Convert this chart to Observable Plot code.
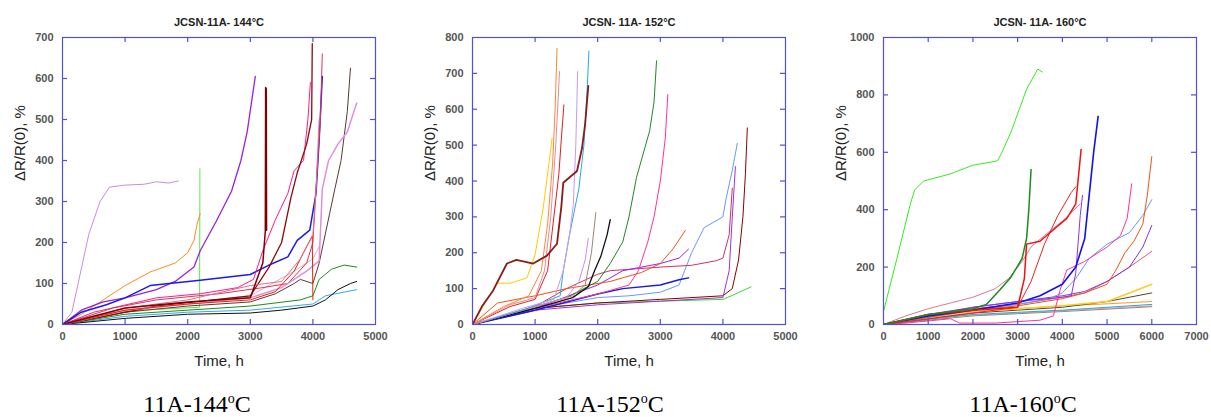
<!DOCTYPE html>
<html><head><meta charset="utf-8">
<script src="https://cdn.jsdelivr.net/npm/d3@7"></script>
<script src="https://cdn.jsdelivr.net/npm/@observablehq/plot@0.6"></script>
<style>
body{margin:0;background:#fff;width:1211px;height:417px;overflow:hidden;position:relative;font-family:"Liberation Sans",Arial,sans-serif}
.panel{position:absolute;top:0}
.cap{position:absolute;top:392px;line-height:24px;font-family:"Liberation Serif","Times New Roman",serif;font-size:24px;color:#000;transform:translateX(-50%);white-space:nowrap}
.cap sup{font-size:14px;line-height:0;vertical-align:9px}
</style></head><body>
<div id="p1" class="panel" style="left:0px"></div>
<div id="p2" class="panel" style="left:410px"></div>
<div id="p3" class="panel" style="left:821px"></div>
<div class="cap" style="left:197px">11A-144<sup>o</sup>C</div>
<div class="cap" style="left:610px">11A-152<sup>o</sup>C</div>
<div class="cap" style="left:1023px">11A-160<sup>o</sup>C</div>
<script>
// ---------- tick labels ----------
const xTicks144 = [0, 1000, 2000, 3000, 4000, 5000];
const yTicks144 = [0, 100, 200, 300, 400, 500, 600, 700];
const xTicks152 = [0, 1000, 2000, 3000, 4000, 5000];
const yTicks152 = [0, 100, 200, 300, 400, 500, 600, 700, 800];
const xTicks160 = [0, 1000, 2000, 3000, 4000, 5000, 6000, 7000];
const yTicks160 = [0, 200, 400, 600, 800, 1000];
const titles = ["JCSN-11A- 144°C", "JCSN- 11A- 152°C", "JCSN- 11A- 160°C"];
const yLabel = "ΔR/R(0), %";
const xLabel = "Time, h";

// ---------- series: [time h, ΔR/R(0) %] ----------
const curves144 = [
  {id: "lavender", pts: [[0,0],[150,30],[420,220],[600,300],[750,335],[1000,340],[1300,342],[1500,348],[1700,345],[1850,350]]},
  {id: "lightpink", pts: [[0,0],[1500,45],[3000,70],[3700,130],[4000,160],[4100,190]]},
  {id: "sky", pts: [[0,0],[1000,20],[2000,30],[3000,35],[4000,50],[4200,70],[4700,85]]},
  {id: "black", pts: [[0,0],[1000,15],[2000,25],[3000,28],[3500,35],[4000,45],[4200,60],[4400,85],[4600,100],[4700,105]]},
  {id: "green", pts: [[0,0],[1000,25],[2000,35],[3000,45],[3800,60],[4000,70],[4100,110],[4300,135],[4500,145],[4700,140]]},
  {id: "lime", pts: [[0,0],[300,15],[600,25],[1000,32],[1500,37],[2190,42],[2195,380]]},
  {id: "orange", pts: [[0,0],[300,25],[600,55],[1000,95],[1400,128],[1800,150],[2000,175],[2100,205],[2150,245],[2200,270]]},
  {id: "violet", pts: [[0,0],[300,35],[650,55],[1000,65],[1500,85],[1800,105],[2100,140],[2200,180],[2450,250],[2700,325],[2850,400],[2950,470],[3080,605]]},
  {id: "blue", pts: [[0,0],[300,30],[700,48],[1000,65],[1400,95],[2200,108],[3000,122],[3300,145],[3600,165],[3750,205],[3950,230],[4050,320],[4100,450],[4150,605]]},
  {id: "hotpink", pts: [[0,0],[500,30],[1500,65],[2200,75],[2800,90],[3050,110],[3200,180],[3400,255],[3600,320],[3700,375],[3850,400],[3920,500],[3960,590]]},
  {id: "crimson", pts: [[0,0],[800,40],[1500,60],[2500,75],[3200,90],[3600,100],[3900,150],[4000,200],[4050,330],[4120,500],[4150,660]]},
  {id: "darkbrown", pts: [[0,0],[1000,30],[2000,45],[3000,55],[3400,75],[3700,100],[3800,110],[4000,100],[4100,150],[4350,330],[4450,400],[4550,520],[4600,625]]},
  {id: "darkred", pts: [[0,0],[1500,45],[3000,70],[3300,140],[3500,200],[3650,310],[3750,370],[3900,440],[3980,500],[3990,685]]},
  {id: "orchid", pts: [[0,0],[1000,35],[2000,50],[3000,65],[3500,90],[3900,130],[4100,155],[4150,330],[4250,400],[4400,440],[4550,470],[4700,540]]},
  {id: "red", pts: [[0,0],[1000,35],[2000,50],[3000,60],[3400,80],[3700,130],[3900,190],[3990,215],[4000,60]]},
  {id: "rose", pts: [[0,0],[1000,40],[2000,60],[3000,95],[3500,105],[3800,160],[4000,220],[4050,330],[4100,500]]},
  {id: "maroon", pts: [[0,0],[1000,40],[2000,55],[3000,65],[3200,150],[3240,228],[3245,578],[3255,575],[3260,230]]}
];
const curves152 = [
  {id: "lime", pts: [[0,0],[1000,45],[2000,60],[3000,65],[4000,70],[4200,85],[4450,105]]},
  {id: "maroon2", pts: [[0,0],[1000,45],[2000,60],[3000,70],[4000,80],[4150,100],[4250,180],[4320,300],[4360,420],[4390,548]]},
  {id: "violet2", pts: [[0,0],[1000,40],[2000,55],[3000,65],[4000,75],[4100,150],[4150,300],[4200,440]]},
  {id: "cornflower", pts: [[0,0],[1000,45],[2000,75],[2500,80],[3000,90],[3300,110],[3500,200],[3700,270],[4000,300],[4050,350],[4150,430],[4230,505]]},
  {id: "crimson", pts: [[0,0],[1000,50],[1500,100],[2000,140],[2200,150],[2600,155],[3000,160],[3500,165],[3900,178],[4000,185],[4100,250],[4150,380]]},
  {id: "blue", pts: [[0,0],[1000,40],[2000,85],[2400,100],[3000,110],[3300,125],[3450,130]]},
  {id: "violet", pts: [[0,0],[1000,45],[2000,110],[2400,150],[3000,170],[3300,185],[3450,210]]},
  {id: "orangered", pts: [[0,0],[400,60],[1000,80],[1500,100],[2200,120],[2700,145],[3000,170],[3200,210],[3400,262]]},
  {id: "hotpink", pts: [[0,0],[1000,45],[2000,85],[2500,110],[2650,150],[2800,230],[2900,300],[3000,400],[3080,520],[3120,641]]},
  {id: "green", pts: [[0,0],[1000,50],[1500,75],[2000,120],[2200,170],[2400,230],[2500,300],[2620,410],[2830,540],[2900,620],[2940,735]]},
  {id: "black", pts: [[0,0],[1000,45],[1600,75],[1850,105],[1950,150],[2050,190],[2150,250],[2200,292]]},
  {id: "taupe", pts: [[0,0],[1000,50],[1600,80],[1800,110],[1900,200],[1970,312]]},
  {id: "orchid", pts: [[0,0],[1000,50],[1500,75],[1700,120],[1800,180],[1850,240]]},
  {id: "sky", pts: [[0,0],[800,40],[1400,80],[1450,150],[1550,250],[1700,380],[1780,500],[1830,650],[1860,762]]},
  {id: "lightviolet", pts: [[0,0],[800,45],[1300,70],[1450,150],[1550,250],[1610,333],[1650,500],[1680,705]]},
  {id: "red", pts: [[0,0],[600,50],[1000,70],[1200,150],[1300,300],[1380,420],[1420,520],[1460,612]]},
  {id: "pink", pts: [[0,0],[600,55],[1000,75],[1150,150],[1250,300],[1330,500],[1390,705]]},
  {id: "orange", pts: [[0,0],[500,50],[900,80],[1100,150],[1200,280],[1280,450],[1320,600],[1350,770]]},
  {id: "gold", pts: [[0,0],[200,60],[400,115],[600,115],[870,130],[1000,195],[1130,325],[1200,420],[1270,518]]},
  {id: "maroon", pts: [[0,0],[150,50],[330,95],[550,170],[700,180],[970,170],[1190,192],[1350,225],[1420,330],[1450,395],[1670,428],[1750,492],[1800,560],[1850,665]]}
];
const curves160 = [
  {id: "palepink", pts: [[0,0],[1000,25],[3000,40],[6000,65]]},
  {id: "taupe", pts: [[0,0],[2000,30],[4000,45],[6000,62]]},
  {id: "sky", pts: [[0,0],[2000,35],[4000,50],[6000,70]]},
  {id: "orange", pts: [[0,0],[2000,45],[3000,55],[4000,65],[5000,72],[6000,80]]},
  {id: "darkbrown", pts: [[0,0],[2000,40],[3000,50],[4000,60],[5000,80],[6000,110]]},
  {id: "gold", pts: [[0,0],[2000,45],[3000,55],[4000,65],[5000,80],[5500,110],[6000,140]]},
  {id: "rose2", pts: [[0,0],[2000,55],[3000,70],[4000,95],[4500,110],[5000,150],[5500,200],[6000,255]]},
  {id: "violet2", pts: [[0,0],[2000,60],[3000,80],[4000,100],[4500,115],[5000,150],[5500,200],[5800,270],[6000,345]]},
  {id: "cornflower", pts: [[0,0],[2000,50],[3000,70],[3700,90],[4000,110],[4300,160],[4600,230],[5000,280],[5500,320],[5800,380],[6000,435]]},
  {id: "orangered", pts: [[0,0],[2000,50],[3000,65],[4000,90],[4500,110],[5000,140],[5200,190],[5400,250],[5600,290],[5800,350],[5900,450],[6000,585]]},
  {id: "hotpink", pts: [[0,0],[500,5],[1500,20],[1700,5],[2500,5],[3500,15],[3800,30],[3950,120],[4100,190],[4500,220],[5000,270],[5300,310],[5450,370],[5550,490]]},
  {id: "rose", pts: [[0,0],[500,30],[1000,55],[1500,75],[2000,95],[2500,125],[2800,160],[3100,220],[3300,270],[3600,310],[4000,360],[4400,420]]},
  {id: "violet", pts: [[0,0],[1000,35],[2000,60],[3000,80],[4000,95],[4200,100],[4300,180],[4400,380],[4450,450]]},
  {id: "blue", pts: [[0,0],[1000,30],[2000,50],[3000,75],[3500,100],[4000,140],[4300,200],[4500,300],[4600,450],[4700,600],[4800,725]]},
  {id: "red2", pts: [[0,0],[2500,50],[3000,60],[3300,150],[3600,280],[3900,380],[4200,460],[4300,480]]},
  {id: "red", pts: [[0,0],[1000,35],[2000,50],[3000,60],[3150,160],[3200,280],[3500,290],[3800,330],[4100,370],[4300,420],[4350,500],[4420,610]]},
  {id: "darkgreen", pts: [[0,0],[1000,35],[2000,55],[2300,70],[2600,120],[2850,165],[3100,230],[3200,300],[3250,400],[3300,540]]},
  {id: "brightgreen", pts: [[0,45],[300,230],[600,420],[700,470],[900,500],[1500,525],[2000,555],[2550,570],[2650,600],[2850,670],[3200,820],[3450,890],[3550,880]]}
];

// ---------- styles ----------
const colors144 = {lavender:"#c98be6", lightpink:"#f4a6c8", sky:"#33aaee", black:"#111111", green:"#1a8c1a", lime:"#55ee44", orange:"#ff8c1a", violet:"#9922dd", blue:"#1a1aee", hotpink:"#ff1a8c", crimson:"#e03355", darkbrown:"#5a3a30", darkred:"#8b0a0a", orchid:"#e08ee0", red:"#ee2200", rose:"#e07090", maroon:"#800000"};
const widths144 = {maroon:1.5, darkred:1.3, blue:1.5, violet:1.3, orchid:1.5};
const colors152 = {lime:"#33dd33", maroon2:"#8b0000", violet2:"#9933dd", cornflower:"#6699ff", crimson:"#cc3366", blue:"#1a1add", violet:"#9922ee", orangered:"#ee5511", hotpink:"#ff3399", green:"#228822", black:"#111111", taupe:"#998877", orchid:"#dd88dd", sky:"#22aaee", lightviolet:"#cc99ee", red:"#dd2222", pink:"#ee8899", orange:"#ff8833", gold:"#ffcc00", maroon:"#8b1a1a"};
const widths152 = {maroon:1.8, blue:1.5, black:1.3};
const colors160 = {palepink:"#ee99bb", taupe:"#998877", sky:"#22aadd", orange:"#ff9922", darkbrown:"#554433", gold:"#ffcc22", rose2:"#d9607f", violet2:"#8833ee", cornflower:"#6699ee", orangered:"#ee5511", hotpink:"#ff3399", rose:"#dd7799", violet:"#8833ee", blue:"#1111ee", red2:"#ee2222", red:"#ee1111", darkgreen:"#1a8c1a", brightgreen:"#33ee22"};
const widths160 = {blue:1.6, red:1.5, darkgreen:1.5, gold:1.5};

const frameBlue = "#4f4fe0";

function panel(el, {width, xMax, yMax, xTicks, yTicks, title, curves, colors, widths}) {
  const H = 380, mt = 37, mb = 56, ml = 62, innerW = 313;
  const innerH = H - mt - mb;
  const mr = width - ml - innerW;
  const xIn = xTicks.filter(d => d > 0 && d < xMax);
  const yIn = yTicks.filter(d => d > 0 && d < yMax);
  const chart = Plot.plot({
    width, height: H, marginTop: mt, marginBottom: mb, marginLeft: ml, marginRight: mr,
    x: {domain: [0, xMax]},
    y: {domain: [0, yMax]},
    style: {fontFamily: "'Liberation Sans', Arial, sans-serif", background: "transparent", overflow: "visible"},
    marks: [
      ...curves.map(c => Plot.line(c.pts, {x: d => d[0], y: d => d[1], stroke: colors[c.id], strokeWidth: widths[c.id] ?? 1, clip: true})),
      Plot.frame({stroke: frameBlue, strokeWidth: 1.2}),
      Plot.ruleX(xIn, {x: d => d, insetTop: innerH - 5, stroke: frameBlue, strokeWidth: 1.2}),
      Plot.ruleX(xIn, {x: d => d, insetBottom: innerH - 5, stroke: frameBlue, strokeWidth: 1.2}),
      Plot.ruleY(yIn, {y: d => d, insetRight: innerW - 5, stroke: frameBlue, strokeWidth: 1.2}),
      Plot.ruleY(yIn, {y: d => d, insetLeft: innerW - 5, stroke: frameBlue, strokeWidth: 1.2}),
      Plot.axisX(xTicks, {tickSize: 0, tickPadding: 8, tickFormat: d => String(d), fontSize: 11, fontWeight: "bold", fill: "#555", label: null}),
      Plot.axisY(yTicks, {tickSize: 0, tickPadding: 9, tickFormat: d => String(d), fontSize: 11, fontWeight: "bold", fill: "#555", label: null}),
      Plot.text([title], {text: d => d, frameAnchor: "top", dy: -19, fontSize: 11, fontWeight: "bold", fill: "#222"}),
      Plot.text([yLabel], {text: d => d, frameAnchor: "left", dx: -42, rotate: -90, fontSize: 15, fill: "#222"}),
      Plot.text([xLabel], {text: d => d, frameAnchor: "bottom", dy: 41, fontSize: 15, fill: "#222"})
    ]
  });
  document.getElementById(el).appendChild(chart);
}

panel("p1", {width: 400, xMax: 5000, yMax: 700, xTicks: xTicks144, yTicks: yTicks144, title: titles[0], curves: curves144, colors: colors144, widths: widths144});
panel("p2", {width: 400, xMax: 5000, yMax: 800, xTicks: xTicks152, yTicks: yTicks152, title: titles[1], curves: curves152, colors: colors152, widths: widths152});
panel("p3", {width: 390, xMax: 7000, yMax: 1000, xTicks: xTicks160, yTicks: yTicks160, title: titles[2], curves: curves160, colors: colors160, widths: widths160});
</script>
</body></html>
